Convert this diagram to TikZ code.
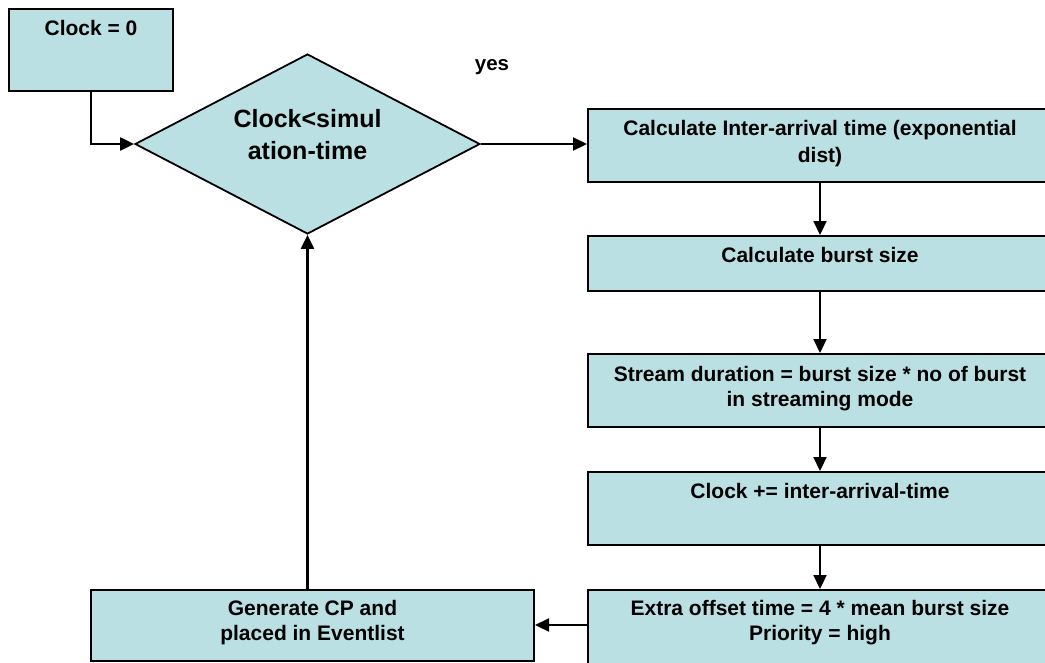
\documentclass[tikz,border=0pt]{standalone}
\usepackage{fontspec}
\setmainfont{Liberation Sans}
\usetikzlibrary{arrows.meta,shapes.geometric}
\definecolor{boxfill}{RGB}{186,224,227}
\begin{document}
\begin{tikzpicture}[x=1pt,y=-1pt,
  box/.style={draw=black,fill=boxfill,line width=2pt,rectangle,inner sep=0pt,anchor=north west},
  decision/.style={draw=black,fill=boxfill,line width=1.8pt,diamond,inner sep=0pt,
    minimum width=345pt,minimum height=180pt},
  txt/.style={font=\fontsize{21}{25}\selectfont\bfseries,align=center,inner sep=0pt,anchor=north},
  flow/.style={line width=2.2pt,-{Triangle[length=14pt,width=13pt]}}]
\clip (0,0) rectangle (1045,662);
\fill[white] (0,0) rectangle (1045,662);

% start box
\node[box,minimum width=164pt,minimum height=82pt] (c0) at (8,8) {};
\node[txt] (tc0) at ([yshift=-12pt]c0.north) {Clock = 0};

% loop test
\node[decision] (dia) at (307.5,144) {};
\node[font=\fontsize{25}{32}\selectfont\bfseries,align=center,inner sep=0pt,anchor=north] (tdia) at (307.5,109) {Clock<simul\\ation-time};
\node[font=\fontsize{20.5}{24}\selectfont\bfseries,inner sep=0pt,anchor=base] (yes) at (492,70) {yes};

% process column
\node[box,minimum width=464pt,minimum height=73pt] (b1) at (587,108) {};
\node[txt,font=\fontsize{21}{27}\selectfont\bfseries] (t1) at ([yshift=-12pt]b1.north) {Calculate Inter-arrival time (exponential\\dist)};
\node[box,minimum width=464pt,minimum height=55pt] (b2) at (587,235) {};
\node[txt] (t2) at ([yshift=-12pt]b2.north) {Calculate burst size};
\node[box,minimum width=464pt,minimum height=73pt] (b3) at (587,353) {};
\node[txt] (t3) at ([yshift=-13pt]b3.north) {Stream duration = burst size * no of burst\\in streaming mode};
\node[box,minimum width=464pt,minimum height=73pt] (b4) at (587,471) {};
\node[txt] (t4) at ([yshift=-12pt]b4.north) {Clock += inter-arrival-time};
\node[box,minimum width=464pt,minimum height=76pt] (b5) at (587,589) {};
\node[txt] (t5) at ([yshift=-11pt]b5.north) {Extra offset time = 4 * mean burst size\\Priority = high};

% event generation
\node[box,minimum width=443pt,minimum height=71pt] (gen) at (90,589) {};
\node[txt] (tgen) at ([yshift=-11pt]gen.north) {Generate CP and\\placed in Eventlist};

% connectors
\draw[flow] (c0.south) |- (dia.west);
\draw[flow] (dia.east) -- (b1.west |- dia.east);
\draw[flow] (b1.south) -- (b2.north);
\draw[flow] (b2.south) -- (b3.north);
\draw[flow] (b3.south) -- (b4.north);
\draw[flow] (b4.south) -- (b5.north);
\draw[flow] (b5.west |- 0,625) -- (gen.east |- 0,625);
\draw[flow] (gen.north -| dia.south) -- (dia.south);
\end{tikzpicture}
\end{document}
